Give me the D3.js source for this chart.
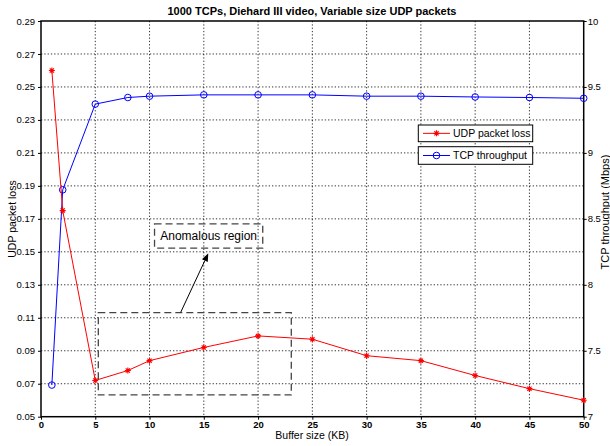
<!DOCTYPE html>
<html><head><meta charset="utf-8">
<script src="https://cdn.jsdelivr.net/npm/d3@7"></script>
<style>body{margin:0;background:#fff;} svg{display:block;font-family:"Liberation Sans",Arial,sans-serif;}</style>
</head><body>
<svg id="c" width="610" height="446"></svg>
<script>
const bufferSizes = [1, 2, 5, 8, 10, 15, 20, 25, 30, 35, 40, 45, 50];
const udpLoss = [0.26, 0.175, 0.072, 0.078, 0.084, 0.092, 0.099, 0.097, 0.087, 0.084, 0.075, 0.067, 0.060];
const tcpThroughput = [7.24, 8.72, 9.37, 9.42, 9.43, 9.44, 9.44, 9.44, 9.43, 9.43, 9.424, 9.42, 9.414];
const xTicks = [0, 5, 10, 15, 20, 25, 30, 35, 40, 45, 50];
const yLeftTicks = [0.05, 0.07, 0.09, 0.11, 0.13, 0.15, 0.17, 0.19, 0.21, 0.23, 0.25, 0.27, 0.29];
const yRightTicks = [7, 7.5, 8, 8.5, 9, 9.5, 10];
const titleText = "1000 TCPs, Diehard III video, Variable size UDP packets";
const xLabel = "Buffer size (KB)";
const yLeftLabel = "UDP packet loss";
const yRightLabel = "TCP throughput (Mbps)";
const legendLabels = ["UDP packet loss", "TCP throughput"];
const annotationText = "Anomalous region";

const L = 41, R = 583.7, T = 21, B = 416.7;
const svg = d3.select("#c");
const x = d3.scaleLinear().domain([0, 50]).range([L, R]);
const yL = d3.scaleLinear().domain([0.05, 0.29]).range([B, T]);
const yR = d3.scaleLinear().domain([7, 10]).range([B, T]);

// grid
const grid = svg.append("g").attr("stroke", "#000").attr("stroke-width", 0.8).attr("stroke-dasharray", "1.3,2");
grid.selectAll("line.v").data(xTicks.slice(1, -1)).join("line")
  .attr("x1", d => x(d)).attr("x2", d => x(d)).attr("y1", T).attr("y2", B);
grid.selectAll("line.h").data(yLeftTicks.slice(1, -1)).join("line")
  .attr("x1", L).attr("x2", R).attr("y1", d => yL(d)).attr("y2", d => yL(d));

// axes
const fmt2 = d3.format(".2f");
const axL = d3.axisLeft(yL).tickValues(yLeftTicks).tickFormat(fmt2).tickSize(3).tickPadding(3);
const axR = d3.axisRight(yR).tickValues(yRightTicks).tickFormat(d => String(d)).tickSize(3).tickPadding(1);
const axB = d3.axisBottom(x).tickValues(xTicks).tickSize(3).tickPadding(2);
function styleAxis(g, bold) {
  g.select(".domain").remove();
  g.selectAll("line").attr("stroke", "#000");
  g.selectAll("text").attr("font-size", "9.5px").attr("fill", "#000")
    .attr("font-family", "Liberation Sans, Arial, sans-serif")
    .attr("font-weight", bold ? "bold" : "normal");
}
svg.append("g").attr("transform", `translate(${L},0)`).call(axL).call(g => styleAxis(g, false));
svg.append("g").attr("transform", `translate(${R},0)`).call(axR).call(g => styleAxis(g, false));
svg.append("g").attr("transform", `translate(0,${B})`).call(axB).call(g => styleAxis(g, true));

svg.append("rect").attr("x", L).attr("y", T).attr("width", R - L).attr("height", B - T)
  .attr("fill", "none").attr("stroke", "#000").attr("stroke-width", 1.5);

// series
const udpPts = bufferSizes.map((b, i) => [b, udpLoss[i]]);
const tcpPts = bufferSizes.map((b, i) => [b, tcpThroughput[i]]);
const starPath = (cx, cy, r) => {
  const d = r * 0.707;
  return `M${cx - r},${cy}L${cx + r},${cy}M${cx},${cy - r}L${cx},${cy + r}M${cx - d},${cy - d}L${cx + d},${cy + d}M${cx - d},${cy + d}L${cx + d},${cy - d}`;
};
svg.append("path").datum(tcpPts).attr("fill", "none").attr("stroke", "#0000ff").attr("stroke-width", 1)
  .attr("d", d3.line().x(d => x(d[0])).y(d => yR(d[1])));
svg.append("g").selectAll("circle").data(tcpPts).join("circle")
  .attr("cx", d => x(d[0])).attr("cy", d => yR(d[1])).attr("r", 3.3)
  .attr("fill", "none").attr("stroke", "#0000ff").attr("stroke-width", 1);
svg.append("path").datum(udpPts).attr("fill", "none").attr("stroke", "#ff0000").attr("stroke-width", 1)
  .attr("d", d3.line().x(d => x(d[0])).y(d => yL(d[1])));
svg.append("g").selectAll("path").data(udpPts).join("path")
  .attr("d", d => starPath(x(d[0]), yL(d[1]), 3)).attr("stroke", "#ff0000").attr("stroke-width", 1.1).attr("fill", "none");

// annotation
const ann = svg.append("g").attr("stroke", "#444").attr("stroke-width", 1.3).attr("stroke-dasharray", "7,4").attr("fill", "none");
ann.append("rect").attr("x", x(5.28)).attr("y", yL(0.1131)).attr("width", x(23.06) - x(5.28)).attr("height", yL(0.0632) - yL(0.1131));
ann.append("rect").attr("x", x(10.46)).attr("y", yL(0.1669)).attr("width", x(20.43) - x(10.46)).attr("height", yL(0.1522) - yL(0.1669));
svg.append("text").attr("x", (x(10.46) + x(20.43)) / 2).attr("y", (yL(0.1669) + yL(0.1522)) / 2 + 4.2)
  .attr("text-anchor", "middle").attr("font-size", "12px").attr("fill", "#000").text(annotationText);
const ax1 = x(12.87), ay1 = yL(0.1133), ax2 = x(15.41), ay2 = yL(0.1491);
const ang = Math.atan2(ay2 - ay1, ax2 - ax1);
const hl = 8, hw = 3.2;
const bx = ax2 - hl * Math.cos(ang), by = ay2 - hl * Math.sin(ang);
svg.append("line").attr("x1", ax1).attr("y1", ay1).attr("x2", bx).attr("y2", by).attr("stroke", "#000").attr("stroke-width", 1);
svg.append("path").attr("fill", "#000").attr("d",
  `M${ax2},${ay2}L${bx + hw * Math.sin(ang)},${by - hw * Math.cos(ang)}L${bx - hw * Math.sin(ang)},${by + hw * Math.cos(ang)}Z`);

// legends
const legColors = ["#ff0000", "#0000ff"];
const legTop = [125, 146.7], legH = [16.7, 17.6];
legendLabels.forEach((lab, i) => {
  const g = svg.append("g");
  g.append("rect").attr("x", 418.3).attr("y", legTop[i]).attr("width", 114.4).attr("height", legH[i])
    .attr("fill", "#fff").attr("stroke", "#000").attr("stroke-width", 1);
  const cy = legTop[i] + legH[i] / 2;
  g.append("line").attr("x1", 423).attr("x2", 450).attr("y1", cy).attr("y2", cy).attr("stroke", legColors[i]).attr("stroke-width", 1);
  if (i === 0) g.append("path").attr("d", starPath(436.5, cy, 3)).attr("stroke", legColors[i]).attr("stroke-width", 1.1);
  else g.append("circle").attr("cx", 436.5).attr("cy", cy).attr("r", 3.3).attr("fill", "none").attr("stroke", legColors[i]);
  g.append("text").attr("x", 453).attr("y", cy + 3.8).attr("font-size", "10.5px").attr("fill", "#000").text(lab);
});

// titles
svg.append("text").attr("x", 312).attr("y", 14.5).attr("text-anchor", "middle").attr("font-size", "11px")
  .attr("font-weight", "bold").text(titleText);
svg.append("text").attr("x", 312).attr("y", 439).attr("text-anchor", "middle").attr("font-size", "10.5px").text(xLabel);
svg.append("text").attr("transform", "translate(15.5,219) rotate(-90)").attr("text-anchor", "middle").attr("font-size", "10.5px").text(yLeftLabel);
svg.append("text").attr("transform", "translate(609,212) rotate(-90)").attr("text-anchor", "middle").attr("font-size", "11px").text(yRightLabel);
</script>
</body></html>
